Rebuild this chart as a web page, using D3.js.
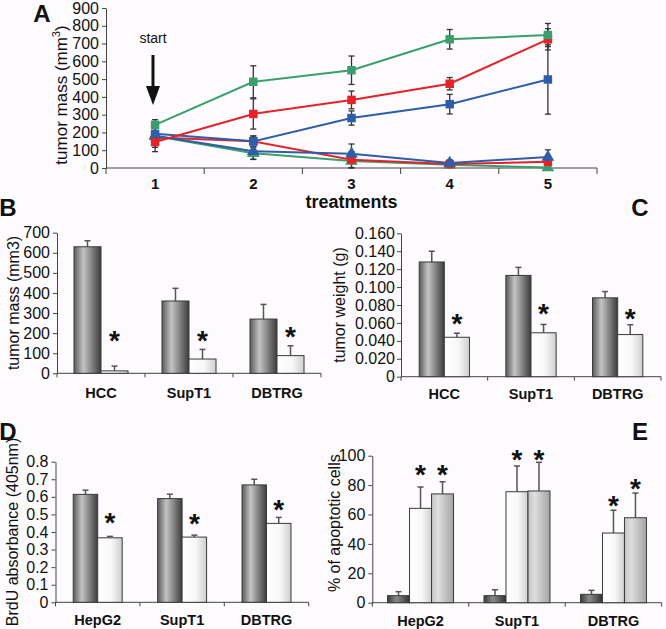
<!DOCTYPE html>
<html><head><meta charset="utf-8">
<script src="https://cdn.jsdelivr.net/npm/d3@7"></script>
<style>body{margin:0;background:#fdfbfd}svg{display:block}text{font-family:"Liberation Sans",Arial,sans-serif}</style>
</head><body>
<script>
// ---------- DATA ----------
const treatments = ["1","2","3","4","5"];
const ctrlGreen = [243,485,550,724,748],  ctrlGreenErr = [15,90,80,55,65];
const ctrlRed   = [146,304,383,474,724],  ctrlRedErr   = [30,85,50,35,60];
const ctrlBlue  = [192,150,281,359,498],  ctrlBlueErr  = [30,30,40,55,195];
const trtGreen  = [180,83,39,18,3],       trtGreenErr  = [20,35,40,10,5];
const trtRed    = [172,150,47,22,35],     trtRedErr    = [25,30,45,10,15];
const trtBlue   = [182,94,80,28,62],      trtBlueErr   = [90,45,55,18,40];
const massTicks = [0,900];

const massCats = ["HCC","SupT1","DBTRG"];
const massCtrl = [630,360,270],   massCtrlErr = [30,63,73];
const massTrt  = [12,71,88],      massTrtErr  = [24,48,49];
const massStars = [195,195,215];

const weightCtrl = [0.128,0.113,0.088], weightCtrlErr = [0.012,0.009,0.007];
const weightTrt  = [0.044,0.049,0.047], weightTrtErr  = [0.0045,0.0093,0.011];
const weightStars = [0.0656,0.0771,0.072];

const cellCats = ["HepG2","SupT1","DBTRG"];
const brduCtrl = [0.614,0.59,0.668], brduCtrlErr = [0.024,0.025,0.032];
const brduTrt  = [0.367,0.371,0.449], brduTrtErr = [0.008,0.011,0.034];
const brduStars = [0.485,0.48,0.5625];

const apopCtrl = [4.8,4.8,5.7],     apopCtrlErr = [2.7,4.0,2.7];
const apopA    = [64.2,75.5,47.4],  apopAErr    = [14.5,17.5,15.5];
const apopB    = [74,76,57.8],      apopBErr    = [8.3,19.5,16.8];
const apopStarsA = [91.4,101.6,70.3], apopStarsB = [91.4,101.6,81.6];

// ---------- SVG ----------
const W=666,H=629;
const svg=d3.select("body").append("svg").attr("width",W).attr("height",H);
svg.append("rect").attr("width",W).attr("height",H).attr("fill","#fdfbfd");
const defs=svg.append("defs");
function grad(id,stops){
  const g=defs.append("linearGradient").attr("id",id).attr("x1","0").attr("x2","1").attr("y1","0").attr("y2","0");
  stops.forEach(s=>g.append("stop").attr("offset",s[0]).attr("stop-color",s[1]));
}
grad("gDark",[[0,"#5a5a5a"],[0.35,"#c4c4c4"],[1,"#3c3c3c"]]);
grad("gWhite",[[0,"#ffffff"],[0.55,"#f8f8f8"],[1,"#cfcfcf"]]);
grad("gDarkE",[[0,"#3a3a3a"],[0.4,"#8a8a8a"],[1,"#333333"]]);
grad("gGray",[[0,"#c4c4c4"],[0.3,"#dedede"],[1,"#a4a4a4"]]);

const FONT='"Liberation Sans",Arial,sans-serif';

function letter(t,x,y){
  svg.append("text").attr("x",x).attr("y",y).attr("text-anchor","middle")
    .attr("font-size",24).attr("font-weight","bold").attr("fill","#111").text(t);
}

// ---------- PANEL A ----------
{
  const x0=106,x1=597,yb=168,yt=8;
  const xb=d3.scaleBand().domain(treatments).range([x0,x1]);
  const xp=d3.scalePoint().domain(treatments).range([x0,x1]).padding(0.5);
  const y=d3.scaleLinear().domain(massTicks).range([yb,yt]);
  const g=svg.append("g");
  const ya=g.append("g").attr("transform",`translate(${x0},0)`)
    .call(d3.axisLeft(y).tickValues(d3.range(0,901,100)).tickSize(4).tickSizeOuter(0).tickPadding(3));
  ya.selectAll("text").attr("font-size",16).attr("font-family",FONT).attr("fill","#111");
  ya.selectAll("line,path").attr("stroke","#444");
  // x axis
  g.append("line").attr("x1",x0).attr("x2",x1).attr("y1",yb).attr("y2",yb).attr("stroke","#444");
  const bounds=treatments.map(d=>xb(d)).concat([x1]);
  g.selectAll(".xt").data(bounds).join("line").attr("x1",d=>d).attr("x2",d=>d)
    .attr("y1",yb).attr("y2",yb+6).attr("stroke","#444");
  g.selectAll(".xl").data(treatments).join("text").attr("x",d=>xp(d)).attr("y",yb+21)
    .attr("text-anchor","middle").attr("font-size",15).attr("font-weight","bold").attr("fill","#111").text(d=>d);
  g.append("text").attr("x",(x0+x1)/2).attr("y",208).attr("text-anchor","middle")
    .attr("font-size",18).attr("font-weight","bold").attr("fill","#111").text("treatments");
  const yt_=g.append("text").attr("transform","translate(67,95) rotate(-90)").attr("text-anchor","middle")
    .attr("font-size",17).attr("fill","#111");
  yt_.append("tspan").text("tumor mass (mm");
  yt_.append("tspan").attr("font-size",11).attr("dy",-7).text("3");
  yt_.append("tspan").attr("dy",7).text(")");

  const series=[
    {v:trtGreen,e:trtGreenErr,c:"#3b9e6c",m:"tri"},
    {v:trtRed,e:trtRedErr,c:"#e52129",m:"sq"},
    {v:trtBlue,e:trtBlueErr,c:"#2f5ea8",m:"tri"},
    {v:ctrlBlue,e:ctrlBlueErr,c:"#2f5ea8",m:"sq"},
    {v:ctrlRed,e:ctrlRedErr,c:"#e52129",m:"sq"},
    {v:ctrlGreen,e:ctrlGreenErr,c:"#3b9e6c",m:"sq"}
  ];
  series.forEach(s=>{
    const eg=g.append("g").attr("stroke","#333").attr("stroke-width",1.3);
    s.v.forEach((v,i)=>{
      const cx=xp(treatments[i]);
      const lo=Math.max(0,v-s.e[i]),hi=v+s.e[i];
      eg.append("line").attr("x1",cx).attr("x2",cx).attr("y1",y(lo)).attr("y2",y(hi));
      eg.append("line").attr("x1",cx-3).attr("x2",cx+3).attr("y1",y(hi)).attr("y2",y(hi));
      eg.append("line").attr("x1",cx-3).attr("x2",cx+3).attr("y1",y(lo)).attr("y2",y(lo));
    });
  });
  const line=d3.line().x((d,i)=>xp(treatments[i])).y(d=>y(d));
  series.forEach(s=>{
    g.append("path").attr("d",line(s.v)).attr("fill","none").attr("stroke",s.c).attr("stroke-width",2);
    const sym=d3.symbol().type(s.m==="sq"?d3.symbolSquare:d3.symbolTriangle).size(s.m==="sq"?72:70);
    g.selectAll(null).data(s.v).join("path")
      .attr("transform",(d,i)=>`translate(${xp(treatments[i])},${y(d)})`)
      .attr("d",sym).attr("fill",s.c);
  });
  g.append("text").attr("x",153).attr("y",43).attr("text-anchor","middle").attr("font-size",14).attr("fill","#111").text("start");
  g.append("line").attr("x1",153).attr("x2",153).attr("y1",55).attr("y2",90).attr("stroke","#111").attr("stroke-width",3);
  g.append("path").attr("d","M146,86 L160,86 L153,105 Z").attr("fill","#111");
  letter("A",42,22);
}

// ---------- BAR PANELS ----------
function barPanel(o){
  const x=d3.scaleBand().domain(o.cats).range([o.x0,o.x1]);
  const y=d3.scaleLinear().domain([0,o.max]).range([o.yb,o.yt]);
  const n=o.series.length;
  const bw=x.bandwidth()*o.frac;
  const g=svg.append("g");
  const ya=g.append("g").attr("transform",`translate(${o.x0},0)`)
    .call(d3.axisLeft(y).tickValues(o.ticks).tickFormat(o.fmt).tickSize(4).tickSizeOuter(0).tickPadding(o.pad||3));
  ya.selectAll("text").attr("font-size",16).attr("font-family",FONT).attr("fill","#111");
  ya.selectAll("line,path").attr("stroke","#444");
  g.append("line").attr("x1",o.x0).attr("x2",o.x1).attr("y1",o.yb).attr("y2",o.yb).attr("stroke","#444");
  const bounds=o.cats.map(d=>x(d)).concat([o.x1]);
  g.selectAll(null).data(bounds).join("line").attr("x1",d=>d).attr("x2",d=>d)
    .attr("y1",o.yb).attr("y2",o.yb+4).attr("stroke","#444");
  g.selectAll(null).data(o.cats).join("text").attr("x",d=>x(d)+x.bandwidth()/2).attr("y",o.yb+o.lab)
    .attr("text-anchor","middle").attr("font-size",14.5).attr("font-weight","bold").attr("fill","#111").text(d=>d);
  g.append("text").attr("transform",`translate(${o.tx},${(o.yt+o.yb)/2+(o.tdy||0)}) rotate(-90)`)
    .attr("text-anchor","middle").attr("font-size",16).attr("fill","#111").text(o.title);
  o.series.forEach((s,si)=>{
    o.cats.forEach((c,i)=>{
      const bx=x(c)+x.bandwidth()/2-n*bw/2+si*bw;
      const cx=bx+bw/2;
      const v=s.v[i],e=s.e[i];
      g.append("line").attr("x1",cx).attr("x2",cx).attr("y1",y(v)).attr("y2",y(v+e)).attr("stroke","#555").attr("stroke-width",1.5);
      g.append("line").attr("x1",cx-3).attr("x2",cx+3).attr("y1",y(v+e)).attr("y2",y(v+e)).attr("stroke","#555").attr("stroke-width",1.5);
      g.append("rect").attr("x",bx).attr("y",y(v)).attr("width",bw).attr("height",o.yb-y(v))
        .attr("fill",`url(#${s.fill})`).attr("stroke","#3a3a3a").attr("stroke-width",1);
      if(s.stars){
        g.append("text").attr("x",cx).attr("y",y(s.stars[i])+0.55*28).attr("text-anchor","middle")
          .attr("font-size",28).attr("font-weight","bold").attr("fill","#111").text("*");
      }
    });
  });
}
const fmtInt=d=>String(d);
barPanel({cats:massCats,x0:57,x1:321,yt:232.7,yb:373.3,max:700,ticks:d3.range(0,701,100),fmt:fmtInt,
  frac:0.307,lab:25,tx:19,title:"tumor mass (mm3)",
  series:[{v:massCtrl,e:massCtrlErr,fill:"gDark"},{v:massTrt,e:massTrtErr,fill:"gWhite",stars:massStars}]});
barPanel({cats:massCats,x0:401,x1:661,yt:233.3,yb:376.7,max:0.16,ticks:d3.range(0,9).map(i=>i*0.02),
  fmt:d=>d===0?"0":d3.format(".3f")(d),pad:2,
  frac:0.29,lab:22,tx:345,title:"tumor weight (g)",
  series:[{v:weightCtrl,e:weightCtrlErr,fill:"gDark"},{v:weightTrt,e:weightTrtErr,fill:"gWhite",stars:weightStars}]});
barPanel({cats:cellCats,x0:55.5,x1:308.7,yt:461.7,yb:602.3,max:0.8,ticks:d3.range(0,9).map(i=>i*0.1),
  fmt:d=>d===0?"0":d3.format(".1f")(d),
  frac:0.29,lab:23,tx:18,title:"BrdU absorbance (405nm)",
  series:[{v:brduCtrl,e:brduCtrlErr,fill:"gDark"},{v:brduTrt,e:brduTrtErr,fill:"gWhite",stars:brduStars}]});
barPanel({cats:cellCats,x0:372.3,x1:661.7,yt:455.7,yb:602.7,max:100,ticks:d3.range(0,101,20),fmt:fmtInt,
  frac:0.228,lab:23,tx:340,tdy:-6,title:"% of apoptotic cells",
  series:[{v:apopCtrl,e:apopCtrlErr,fill:"gDarkE"},{v:apopA,e:apopAErr,fill:"gWhite",stars:apopStarsA},
          {v:apopB,e:apopBErr,fill:"gGray",stars:apopStarsB}]});
letter("B",8,216);
letter("C",640,216);
letter("D",8,440);
letter("E",640,440);
</script>
</body></html>
